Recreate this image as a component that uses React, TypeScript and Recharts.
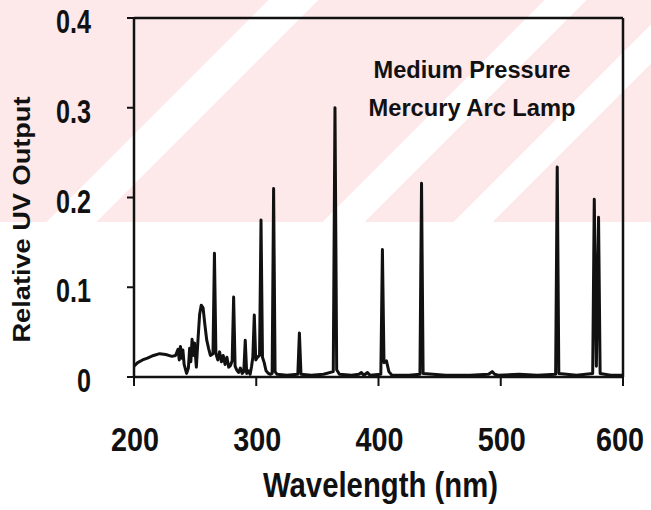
import { Line, LineChart, ReferenceDot, ReferenceLine, XAxis, YAxis } from "recharts";

// UV region, 200-317 nm (continuum + dense line cluster)
const uvNm = [
  200, 203, 207, 211, 216, 221, 226, 231, 234, 236,
  237, 238, 239, 240, 241, 243, 244.5, 245.5, 246.5, 247.5,
  248.5, 249.5, 251, 252.5, 253.7, 255, 256.5, 258, 259.5, 261,
  262.5, 264.6, 265.8, 267, 268.5, 270, 271.5, 273, 274.5, 276,
  277.5, 279, 280.3, 281.5, 282.7, 284, 285.5, 287, 288.5, 289.8,
  291, 292.2, 293.5, 295, 296.2, 297.2, 298.4, 299.6, 301, 302.7,
  303.9, 305.1, 306.5, 308, 310, 311.5, 313, 314.2, 315.4, 317,
];
const uvOutput = [
  0.012, 0.016, 0.019, 0.021, 0.024, 0.026, 0.025, 0.023, 0.024, 0.031,
  0.019, 0.034, 0.021, 0.03, 0.014, 0.004, 0.01, 0.032, 0.017, 0.042,
  0.024, 0.038, 0.011, 0.045, 0.07, 0.08, 0.077, 0.058, 0.041, 0.032,
  0.024, 0.026, 0.138, 0.026, 0.019, 0.028, 0.017, 0.024, 0.014, 0.022,
  0.011, 0.013, 0.018, 0.089, 0.012, 0.008, 0.005, 0.01, 0.004, 0.006,
  0.041, 0.004, 0.007, 0.003, 0.012, 0.022, 0.069, 0.019, 0.022, 0.024,
  0.175, 0.022, 0.016, 0.007, 0.004, 0.003, 0.004, 0.21, 0.006, 0.003,
];

// visible region, 325-600 nm (isolated mercury lines)
const visNm = [
  325, 334, 335.3, 336.6, 345, 355, 363, 364.4, 365.8, 368,
  378, 384, 386, 388, 391, 393, 401.9, 403.2, 404.5, 406.5,
  408.5, 411, 425, 433.9, 435.2, 436.5, 455, 475, 490, 493,
  495, 498, 515, 530, 544.9, 546.2, 547.5, 562, 575.2, 576.5,
  578.2, 580, 581.3, 590, 600,
];
const visOutput = [
  0.002, 0.003, 0.049, 0.003, 0.002, 0.003, 0.006, 0.3, 0.008, 0.003,
  0.002, 0.003, 0.005, 0.002, 0.005, 0.002, 0.003, 0.142, 0.016, 0.018,
  0.006, 0.002, 0.002, 0.003, 0.216, 0.004, 0.002, 0.002, 0.003, 0.006,
  0.003, 0.002, 0.003, 0.002, 0.003, 0.234, 0.004, 0.002, 0.004, 0.198,
  0.012, 0.178, 0.004, 0.002, 0.002,
];

const xTicks = [200, 300, 400, 500, 600];
const yTicks = [0, 0.1, 0.2, 0.3, 0.4];
const noteLines = ["Medium Pressure", "Mercury Arc Lamp"];

const spectrum = [...uvNm, ...visNm].map((nm, i) => ({
  nm,
  output: [...uvOutput, ...visOutput][i],
}));

const FONT = "'Liberation Sans Narrow', 'Arial Narrow', 'Liberation Sans', Arial, sans-serif";
const INK = "#111";

function XTick({ x, y, payload }: any) {
  // keep the last label inside the page edge
  const cx = Math.min(x + 1, 620);
  return (
    <text
      x={cx}
      y={y}
      dy={65}
      textAnchor="middle"
      fontFamily={FONT}
      fontWeight={700}
      fontSize={33}
      fill={INK}
      textLength={48}
      lengthAdjust="spacingAndGlyphs"
    >
      {payload.value}
    </text>
  );
}

function YTick({ x, y, payload }: any) {
  const label = payload.value === 0 ? "0" : payload.value.toFixed(1);
  return (
    <text
      x={x}
      y={y}
      dy={15}
      textAnchor="end"
      fontFamily={FONT}
      fontWeight={700}
      fontSize={33}
      fill={INK}
      textLength={label.length === 1 ? 14 : 35}
      lengthAdjust="spacingAndGlyphs"
    >
      {label}
    </text>
  );
}

function XTitle({ viewBox }: any) {
  return (
    <text
      x={viewBox.x + viewBox.width / 2 + 2}
      y={viewBox.y + 120}
      textAnchor="middle"
      fontFamily={FONT}
      fontWeight={700}
      fontSize={35}
      fill={INK}
      textLength={235}
      lengthAdjust="spacingAndGlyphs"
    >
      Wavelength (nm)
    </text>
  );
}

function YTitle({ viewBox }: any) {
  const cx = viewBox.x + 22;
  const cy = viewBox.y + viewBox.height / 2 + 22;
  return (
    <text
      x={cx}
      y={cy + 8}
      transform={`rotate(-90 ${cx} ${cy})`}
      textAnchor="middle"
      fontFamily={FONT}
      fontWeight={700}
      fontSize={24}
      fill={INK}
      textLength={246}
      lengthAdjust="spacingAndGlyphs"
    >
      Relative UV Output
    </text>
  );
}

function NoteText({ viewBox, text, width }: any) {
  return (
    <text
      x={viewBox.x + viewBox.width / 2}
      y={viewBox.y + viewBox.height / 2}
      textAnchor="middle"
      fontFamily={FONT}
      fontWeight={700}
      fontSize={24}
      fill={INK}
      textLength={width}
      lengthAdjust="spacingAndGlyphs"
    >
      {text}
    </text>
  );
}

const watermark =
  "linear-gradient(135deg, rgba(255,255,255,0) 0px, rgba(255,255,255,0) 190px, #fff 190px, #fff 225px, " +
  "rgba(255,255,255,0) 225px, rgba(255,255,255,0) 385px, #fff 385px, #fff 415px, rgba(255,255,255,0) 415px, " +
  "rgba(255,255,255,0) 478px, #fff 478px, #fff 505px, rgba(255,255,255,0) 505px) 0 0 / 651px 222px no-repeat, " +
  "linear-gradient(#fde8ea, #fde8ea) 0 0 / 651px 222px no-repeat, #fff";

export default function App() {
  return (
    <div style={{ position: "absolute", left: 0, top: 0, width: 651, height: 510, background: watermark }}>
      <LineChart width={651} height={510} data={spectrum} margin={{ top: 18, right: 28, bottom: 0, left: 0 }}>
        <XAxis
          dataKey="nm"
          type="number"
          domain={[200, 600]}
          ticks={xTicks}
          height={133}
          tickSize={9}
          tickMargin={0}
          tick={<XTick />}
          axisLine={{ stroke: INK, strokeWidth: 2.5 }}
          tickLine={{ stroke: INK, strokeWidth: 2 }}
          label={<XTitle />}
        />
        <YAxis
          type="number"
          domain={[0, 0.4]}
          ticks={yTicks}
          width={134}
          tickSize={7}
          tickMargin={36}
          tick={<YTick />}
          axisLine={{ stroke: INK, strokeWidth: 2.5 }}
          tickLine={{ stroke: INK, strokeWidth: 2 }}
          label={<YTitle />}
        />
        <ReferenceLine y={0.4} stroke={INK} strokeWidth={2.5} />
        <ReferenceLine x={600} stroke={INK} strokeWidth={2.5} />
        <ReferenceDot
          x={476.5}
          y={0.333}
          r={0}
          fill="none"
          stroke="none"
          ifOverflow="visible"
          label={<NoteText text={noteLines[0]} width={197} />}
        />
        <ReferenceDot
          x={476.5}
          y={0.291}
          r={0}
          fill="none"
          stroke="none"
          ifOverflow="visible"
          label={<NoteText text={noteLines[1]} width={207} />}
        />
        <Line
          dataKey="output"
          type="linear"
          stroke={INK}
          strokeWidth={3}
          strokeLinejoin="round"
          dot={false}
          isAnimationActive={false}
        />
      </LineChart>
    </div>
  );
}
